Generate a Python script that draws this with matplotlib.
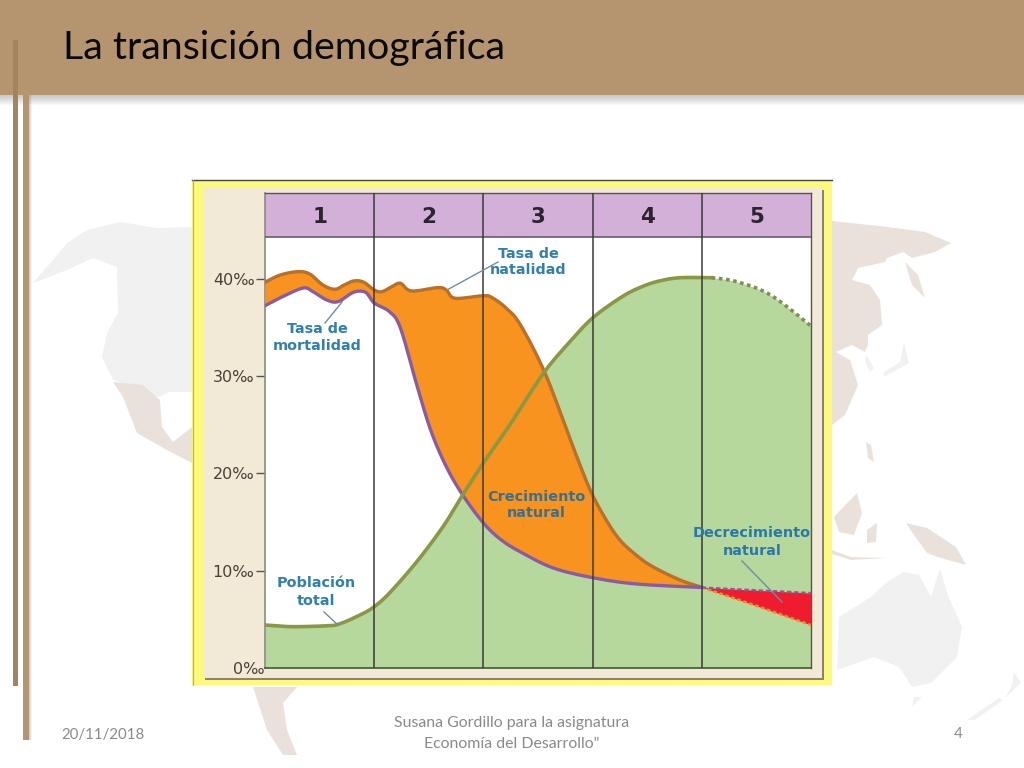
# La transicion demografica - slide with the five phase chart

import numpy as np
import matplotlib
matplotlib.use("Agg")
import matplotlib.pyplot as plt
from matplotlib.patches import Polygon, Rectangle

plt.rcParams['font.family'] = ['Lato', 'DejaVu Sans']

# curves, x in phases (0-5), y in per mille
birth_x = [0, 0.14, 0.30, 0.41, 0.53, 0.64, 0.72, 0.81, 0.90, 1.0, 1.07, 1.16, 1.24, 1.34, 1.58, 1.66, 1.74, 2.0, 2.08,
           2.21, 2.34, 2.56, 2.77, 2.88, 2.99, 3.12, 3.25, 3.40, 3.55, 3.80, 4.0]
birth_y = [39.66, 40.41, 40.75, 40.51, 39.38, 38.94, 39.35, 39.79, 39.69, 38.87, 38.69, 39.2, 39.56, 38.77, 39.11, 38.87, 38.02, 38.28, 38.08,
           36.99, 35.27, 30.44, 24.27, 21.0, 18.0, 15.3, 13.16, 11.6, 10.42, 9.05, 8.30]
birth_future_x = [4.0, 4.5, 5.0]
birth_future_y = [8.30, 6.4, 4.42]

death_x = [0, 0.16, 0.35, 0.44, 0.565, 0.67, 0.81, 0.92, 1.0, 1.14, 1.24, 1.39, 1.52, 1.66, 1.81, 2.0, 2.16, 2.34,
           2.64, 3.0, 3.40, 4.0]
death_y = [37.25, 38.18, 39.07, 38.69, 37.84, 37.67, 38.63, 38.63, 37.53, 36.64, 34.96, 29.1, 24.37, 20.7, 17.79, 14.91, 13.2, 11.93,
           10.28, 9.29, 8.64, 8.28]
death_future_x = [4.0, 5.0]
death_future_y = [8.28, 7.71]

pop_x = [0, 0.23, 0.53, 0.67, 0.87, 1.0, 1.14, 1.39, 1.63, 1.81, 2.0, 2.21, 2.34, 2.56, 2.78, 3.0, 3.27, 3.45, 3.61, 3.80, 4.09]
pop_y = [4.42, 4.25, 4.32, 4.49, 5.45, 6.30, 7.71, 10.93, 14.53, 17.79, 21.08, 24.47, 26.7, 30.47, 33.4, 35.99, 38.18, 39.2, 39.79, 40.13, 40.13]
pop_future_x = [4.09, 4.32, 4.63, 5.0]
pop_future_y = [40.13, 39.72, 38.35, 35.17]

phases = ['1', '2', '3', '4', '5']
yticks = [0, 10, 20, 30, 40]
ytick_labels = ['0‰', '10‰', '20‰', '30‰', '40‰']

title = 'La transición demográfica'
footer_date = '20/11/2018'
footer_mid = ['Susana Gordillo para la asignatura', 'Economía del Desarrollo"']
footer_num = '4'

# faint world map behind the slide, in pixels
map_grey = [
    [(33,283),(53,260),(67,243),(87,230),(120,222),(157,228),(192,227),(192,392),(170,392),(158,397),(113,380),(102,357),(107,333),(118,313),(117,267),(93,258),(67,270)],
    [(837,670),(839,617),(871,597),(887,582),(904,572),(919,575),(931,597),(940,568),(947,593),(962,627),(957,657),(931,683),(912,687),(899,667),(874,657)],
    [(912,707),(914,697),(922,697)],
    [(967,720),(999,698),(1003,700),(975,720)],
    [(1005,698),(1021,683),(1014,672),(1012,685)],
    [(884,377),(909,363),(904,343),(900,362),(884,372)],
    [(866,355),(874,368),(870,372),(865,362)],
]
map_beige = [
    [(113,382),(143,385),(160,400),(162,427),(173,442),(192,427),(192,463),(167,450),(137,433),(123,397)],
    [(832,221),(860,224),(888,227),(925,232),(951,243),(935,252),(912,258),(903,252),(887,258),(885,262),(858,268),(852,280),(870,285),(880,300),(882,325),(868,335),(868,345),(865,352),(852,345),(836,352),(850,360),(858,385),(845,415),(832,425)],
    [(905,262),(918,275),(925,298),(912,285)],
    [(834,517),(857,493),(862,513),(854,535),(839,532)],
    [(867,530),(877,523),(876,542),(867,543)],
    [(906,523),(927,528),(956,547),(966,565),(941,558),(927,553),(914,535)],
    [(832,550),(851,557),(887,558),(851,560),(832,554)],
    [(866,442),(871,445),(874,462),(868,458)],
    [(253,687),(297,687),(283,703),(287,730),(297,755),(283,755),(267,730)],
]


def smooth(xs, ys, n=12):
    # catmull-rom through the read points, only to round off the drawn line
    p = np.column_stack([xs, ys])
    p = np.vstack([p[0], p, p[-1]])
    out = []
    t = np.linspace(0, 1, n, endpoint=False)[:, None]
    for i in range(1, len(p) - 2):
        p0, p1, p2, p3 = p[i - 1], p[i], p[i + 1], p[i + 2]
        out.append(0.5 * (2 * p1 + (p2 - p0) * t + (2 * p0 - 5 * p1 + 4 * p2 - p3) * t ** 2
                          + (3 * p1 - p0 - 3 * p2 + p3) * t ** 3))
    out.append(p[-1][None, :])
    out = np.vstack(out)
    return out[:, 0], out[:, 1]


fig = plt.figure(figsize=(10.24, 7.68), dpi=100, facecolor='white')

# background layer, pixel coordinates
bg = fig.add_axes([0, 0, 1, 1], zorder=0)
bg.set_xlim(0, 1024)
bg.set_ylim(768, 0)
bg.axis('off')
for poly in map_grey:
    bg.add_patch(Polygon(poly, closed=True, fc='#f1f1f1', ec='none'))
for poly in map_beige:
    bg.add_patch(Polygon(poly, closed=True, fc='#eae2da', ec='none'))

# soft shadows
for i in range(10):
    bg.add_patch(Rectangle((0, 95), 1024, 10 - i, fc='#888888', ec='none', alpha=0.05))
    bg.add_patch(Rectangle((28, 95), 4 - i * 0.35, 645, fc='#888888', ec='none', alpha=0.05))

bg.add_patch(Rectangle((23, 95), 5.5, 645, fc='#b59570', ec='none'))
bg.add_patch(Rectangle((0, 0), 1024, 95, fc='#b59570', ec='none'))
bg.add_patch(Rectangle((12.5, 40), 5.5, 646, fc='#a3845f', ec='none'))

# chart frame
bg.add_patch(Rectangle((192, 180), 640, 505, fc='#fdf97a', ec='none'))
bg.plot([192, 832], [180, 180], color='#444444', lw=1)
bg.plot([192.5, 192.5], [180, 685], color='#b0b070', lw=0.8)
bg.add_patch(Rectangle((205, 190), 619, 490, fc='#8a8080', ec='none'))
bg.add_patch(Rectangle((204, 188), 618, 490, fc='#f2ead6', ec='none'))

bg.text(63, 47.5, title, fontsize=28.4, color='#0a0a0a', ha='left', va='center')
bg.text(61, 734.5, footer_date, fontsize=10.8, color='#8a8a8a', ha='left', va='center')
bg.text(512, 723.5, footer_mid[0], fontsize=11.4, color='#8a8a8a', ha='center', va='center')
bg.text(512, 744.5, footer_mid[1], fontsize=11.4, color='#8a8a8a', ha='center', va='center')
bg.text(958, 734.5, footer_num, fontsize=11, color='#8a8a8a', ha='center', va='center')

# chart axes: 0 per mille at y=668, header up to y=193
ax = fig.add_axes([265 / 1024, 100 / 768, 546 / 1024, 475 / 768], zorder=1)
ax.set_xlim(0, 5)
ax.set_ylim(0, 48.84)
ax.set_facecolor('white')
header_low = 44.32

ax.axhspan(header_low, 48.84, color='#d3b0d8', lw=0, zorder=1)
ax.axhline(header_low, color='#6a5a70', lw=1.2, zorder=6)

birth_sx, birth_sy = smooth(birth_x, birth_y)
death_sx, death_sy = smooth(death_x, death_y)
pop_sx, pop_sy = smooth(pop_x, pop_y)
popf_sx, popf_sy = smooth(pop_future_x, pop_future_y)

ax.fill_between(np.r_[pop_sx, popf_sx], 0, np.r_[pop_sy, popf_sy], color='#b6d89c', lw=0, zorder=2)

# natural growth and natural decrease
grow_x = np.union1d(birth_sx, death_sx)
ax.fill_between(grow_x, np.interp(grow_x, death_sx, death_sy), np.interp(grow_x, birth_sx, birth_sy),
                color='#f7931e', lw=0, zorder=3)
ax.fill_between(birth_future_x, np.interp(birth_future_x, death_future_x, death_future_y), birth_future_y,
                color='#ee1c2e', lw=0, zorder=3)

ax.plot(birth_sx, birth_sy, color='#b8702a', lw=2.4, zorder=4, solid_joinstyle='round')
ax.plot(death_sx, death_sy, color='#8a5ba5', lw=2.4, zorder=4, solid_joinstyle='round')
ax.plot(birth_future_x, birth_future_y, color='#e8902a', lw=1.8, ls=(0, (1.5, 1)), zorder=4)
ax.plot(death_future_x, death_future_y, color='#8a5ba5', lw=1.6, ls=(0, (2, 1.2)), zorder=4)
ax.plot(pop_sx, pop_sy, color='#8a9845', lw=2.6, zorder=5, solid_joinstyle='round')
ax.plot(popf_sx, popf_sy, color='#7f8f55', lw=2.6, ls=(0, (1, 1)), zorder=5)

for i in range(1, 5):
    ax.axvline(i, color='#3a3a3a', lw=1.1, zorder=6)

for i, name in enumerate(phases):
    ax.text(i + 0.5, 46.35, name, fontsize=15.5, fontweight='bold', family='DejaVu Sans',
            color='#2b2430', ha='center', va='center', zorder=7)

ax.set_xticks([])
ax.set_yticks(yticks)
ax.set_yticklabels(ytick_labels, fontsize=11.5, family='DejaVu Sans', color='#4a4038')
ax.tick_params(axis='y', length=6.5, width=1, color='#555555', pad=1)
zero_tick = ax.yaxis.get_major_ticks()[0]
zero_tick.tick1line.set_visible(False)
zero_tick.set_pad(-6)
for side in ['top', 'right']:
    ax.spines[side].set_color('#555555')
    ax.spines[side].set_linewidth(1)
ax.spines['left'].set_color('#8a8a80')
ax.spines['left'].set_linewidth(1.2)
ax.spines['bottom'].set_color('#3a4a30')
ax.spines['bottom'].set_linewidth(1.1)

# labels and leaders on top, pixel coordinates
top = fig.add_axes([0, 0, 1, 1], zorder=2)
top.set_xlim(0, 1024)
top.set_ylim(768, 0)
top.axis('off')
top.patch.set_alpha(0)

blue = '#2f7fb0'
labels = [
    ('Tasa de', 528, 254, blue), ('natalidad', 528, 270, blue),
    ('Tasa de', 317, 329, blue), ('mortalidad', 317, 346, blue),
    ('Crecimiento', 536, 497, '#3a6f8f'), ('natural', 536, 513, '#3a6f8f'),
    ('Población', 316, 583, blue), ('total', 316, 601, blue),
    ('Decrecimiento', 752, 533, '#2878a8'), ('natural', 752, 551, '#2878a8'),
]
for txt, px, py, col in labels:
    top.text(px, py, txt, fontsize=10.4, fontweight='bold', family='DejaVu Sans', color=col, ha='center', va='center')

leaders = [
    ((498, 447), (262, 290)),
    ((342, 325), (302, 323)),
    ((324, 338), (612, 625)),
    ((742, 782), (561, 602)),
]
for lx, ly in leaders:
    top.plot(lx, ly, color='#6f8ea0', lw=1)

plt.savefig('out.png', dpi=100)
plt.close()
